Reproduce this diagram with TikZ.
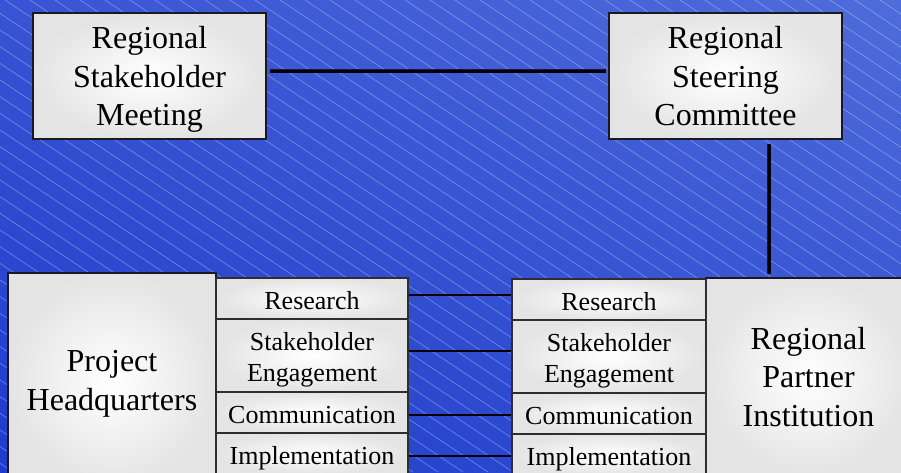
\documentclass[tikz,border=0pt]{standalone}
\usepackage{fontspec}
\setmainfont{Liberation Serif}
\usetikzlibrary{shadings}
\definecolor{bgLL}{RGB}{30,60,202}
\definecolor{bgLR}{RGB}{50,78,210}
\definecolor{bgUL}{RGB}{56,84,212}
\definecolor{bgUR}{RGB}{78,108,218}
\definecolor{boxedge}{RGB}{25,25,35}
\definecolor{subedge}{RGB}{45,45,50}
\definecolor{boxouter}{RGB}{228,228,228}
\definecolor{linkedge}{RGB}{20,24,70}
\newcommand\bxh{\rule{0pt}{30pt}}
\newcommand\bxd{\rule[-8pt]{0pt}{8pt}}
\newcommand\sxh{\rule{0pt}{27pt}}
\newcommand\sxd{\rule[-6pt]{0pt}{6pt}}
\begin{document}
\begin{tikzpicture}[x=1pt,y=-1pt,
  bigbox/.style={draw=boxedge, line width=1.2pt, shade, shading=radial,
    inner color=white, outer color=boxouter, align=center, inner sep=0pt,
    font=\fontsize{32}{38.5}\selectfont},
  subbox/.style={draw=subedge, line width=1.1pt, shade, shading=radial,
    inner color=white, outer color=boxouter, align=center, inner sep=0pt,
    font=\fontsize{26}{31.4}\selectfont},
  leftsub/.style={subbox, minimum width=192pt},
  rightsub/.style={subbox, minimum width=194pt},
  heavy/.style={draw=linkedge, line width=0.9pt, double=black, double distance=3pt},
  thinlink/.style={draw=black, line width=1.2pt},
  hatch/.style={white, opacity=0.35, line width=0.6pt}]
\useasboundingbox (0,0) rectangle (901,472);
\clip (0,0) rectangle (901,472);
% background
\shade[lower left=bgLL, lower right=bgLR, upper left=bgUL, upper right=bgUR]
  (0,0) rectangle (901,472);
\foreach \k in {-29,...,36}
  \draw[hatch] ({5+25*\k},0) -- ({713+25*\k},472);
% top boxes
\node[bigbox, minimum width=233pt, minimum height=126pt] (rsm) at (149.5,76)
  {\bxh Regional\\Stakeholder\\Meeting\bxd};
\node[bigbox, minimum width=233pt, minimum height=126pt] (rsc) at (725.5,76)
  {\bxh Regional\\Steering\\Committee\bxd};
% bottom main boxes
\node[bigbox, minimum width=208pt, minimum height=214pt] (hq) at (112,380)
  {\bxh Project\\Headquarters\bxd};
\node[bigbox, minimum width=205pt, minimum height=197pt] (rpi) at (808.5,376.5)
  {\bxh Regional\\Partner\\Institution\bxd};
% left sub-boxes
\node[leftsub, minimum height=41pt] (l1) at (312,298.5) {\sxh Research\sxd};
\node[leftsub, minimum height=73pt] (l2) at (312,355.5) {\sxh Stakeholder\\Engagement\sxd};
\node[leftsub, minimum height=41pt] (l3) at (312,412.5) {\sxh Communication\sxd};
\node[leftsub, minimum height=41pt] (l4) at (312,453.5) {\sxh Implementation\sxd};
% right sub-boxes
\node[rightsub, minimum height=41pt] (r1) at (609,299.5) {\sxh Research\sxd};
\node[rightsub, minimum height=73pt] (r2) at (609,356.5) {\sxh Stakeholder\\Engagement\sxd};
\node[rightsub, minimum height=41pt] (r3) at (609,413.5) {\sxh Communication\sxd};
\node[rightsub, minimum height=41pt] (r4) at (609,454.5) {\sxh Implementation\sxd};
% connectors
\draw[heavy, shorten <=3pt, shorten >=2pt]
  ([yshift=5pt]rsm.east) -- ([yshift=5pt]rsm.east -| rsc.west);
\draw[heavy, shorten <=4pt, shorten >=3pt]
  ([xshift=43.5pt]rsc.south) -- ([xshift=43.5pt]rsc.south |- rpi.north);
\draw[thinlink] ([yshift=3.5pt]l1.east) -- ([yshift=3.5pt]l1.east -| r1.west);
\draw[thinlink] ([yshift=4.5pt]l2.east) -- ([yshift=4.5pt]l2.east -| r2.west);
\draw[thinlink] ([yshift=-2.5pt]l3.east) -- ([yshift=-2.5pt]l3.east -| r3.west);
\draw[thinlink] ([yshift=-2.5pt]l4.east) -- ([yshift=-2.5pt]l4.east -| r4.west);
\end{tikzpicture}
\end{document}
